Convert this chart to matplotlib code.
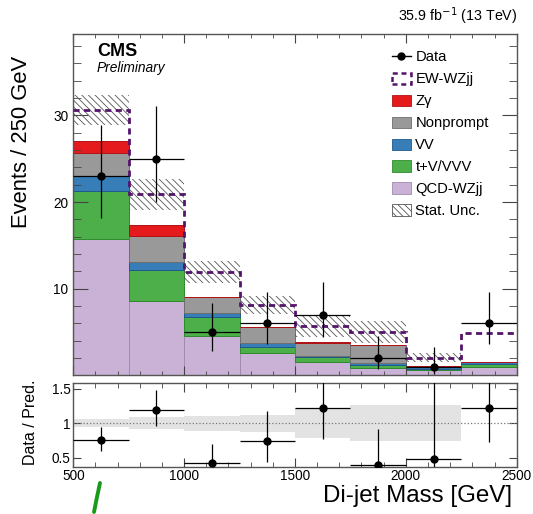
import numpy as np
import matplotlib
matplotlib.use("Agg")
import matplotlib.pyplot as plt
from matplotlib.patches import Patch
from matplotlib.lines import Line2D
from matplotlib.ticker import MultipleLocator

plt.rcParams["font.family"] = ["Liberation Sans", "DejaVu Sans"]
plt.rcParams["hatch.linewidth"] = 0.6

# Binning (di-jet mass, GeV)
edges = [500, 750, 1000, 1250, 1500, 1750, 2000, 2250, 2500]

# Stacked predictions (events per bin), bottom to top
qcd_wzjj = [15.8, 8.65, 4.6, 2.6, 1.6, 0.9, 0.64, 1.0]
tv_vvv = [5.5, 3.55, 2.1, 0.7, 0.5, 0.3, 0.16, 0.3]
vv = [1.7, 0.9, 0.5, 0.4, 0.2, 0.2, 0.15, 0.2]
nonprompt = [2.7, 3.0, 1.8, 1.9, 1.5, 2.1, 0.11, 0.05]
zgamma = [1.3, 1.3, 0.05, 0.05, 0.02, 0.02, 0.01, 0.01]
ew_wzjj = [3.6, 3.5, 2.85, 2.5, 1.9, 1.5, 0.99, 3.34]
stat_unc = [1.75, 1.8, 1.25, 1.0, 1.25, 1.3, 0.54, 0.0]

# Data with asymmetric (Poisson) errors
data = [23, 25, 5, 6, 7, 2, 1, 6]
data_lo = [4.8, 5.0, 2.2, 2.4, 2.6, 1.3, 0.8, 2.4]
data_hi = [5.9, 6.1, 3.4, 3.6, 3.8, 2.6, 2.3, 3.6]

edges = np.array(edges, dtype=float)
centers = 0.5 * (edges[:-1] + edges[1:])
widths = np.diff(edges)

fig = plt.figure(figsize=(5.33, 5.14), dpi=100)
ax = fig.add_axes([0.1375, 0.2695, 0.8319, 0.6644])
rax = fig.add_axes([0.1375, 0.092, 0.8319, 0.1623])

# stack
stack = [
    (qcd_wzjj, "#cab2d6", "#a08cb0", "QCD-WZjj"),
    (tv_vvv, "#4daf4a", "#2f8a2d", "t+V/VVV"),
    (vv, "#377eb8", "#1f5a8a", "VV"),
    (nonprompt, "#999999", "#6e6e6e", "Nonprompt"),
    (zgamma, "#e41a1c", "#b01214", "Z\u03b3"),
]
bottom = np.zeros(len(centers))
for vals, col, ecol, lab in stack:
    vals = np.array(vals)
    ax.bar(edges[:-1], vals, width=widths, bottom=bottom, align="edge",
           color=col, edgecolor=ecol, linewidth=0.7)
    bottom = bottom + vals

total = bottom + np.array(ew_wzjj)
unc = np.array(stat_unc)
ew_col = "#54146b"
ax.stairs(total, edges, baseline=None, color=ew_col, lw=2.0,
          ls=(0, (2.2, 1.6)), zorder=4)
ax.bar(edges[:-1], 2 * unc, width=widths, bottom=total - unc, align="edge",
       facecolor="none", edgecolor="#555555", hatch="\\\\\\\\\\", lw=0, zorder=3)

data = np.array(data, dtype=float)
ax.errorbar(centers, data, xerr=widths / 2, yerr=[data_lo, data_hi], fmt="o",
            color="black", ms=5, elinewidth=0.9, capsize=0, zorder=5)

ax.set_xlim(500, 2500)
ax.set_ylim(0, 39.4)
ax.set_xticklabels([])
ax.xaxis.set_major_locator(MultipleLocator(500))
ax.xaxis.set_minor_locator(MultipleLocator(100))
ax.set_yticks([10, 20, 30])
ax.yaxis.set_minor_locator(MultipleLocator(2))
ax.tick_params(which="both", direction="in", top=True, right=True,
               labelsize=9.8, color="#444444")
ax.tick_params(axis="x", which="major", length=6.5)
ax.tick_params(axis="x", which="minor", length=3)
ax.tick_params(axis="y", which="major", length=10.5)
ax.tick_params(axis="y", which="minor", length=5.5)
ax.set_ylabel("Events / 250 GeV", fontsize=15.8)

ax.text(0.053, 0.950, "CMS", transform=ax.transAxes, fontsize=13,
        fontweight="bold", va="center", ha="left")
ax.text(0.053, 0.900, "Preliminary", transform=ax.transAxes, fontsize=9.9,
        style="italic", va="center", ha="left")
fig.text(0.970, 0.969, "35.9 fb$^{-1}$ (13 TeV)", ha="right", va="center",
         fontsize=10.3)

handles = [
    Line2D([], [], color="black", marker="o", ms=5, lw=1),
    Patch(facecolor="none", edgecolor=ew_col, ls=(0, (2, 1.5)), lw=1.8),
    Patch(facecolor="#e41a1c", edgecolor="#b01214", lw=0.6),
    Patch(facecolor="#999999", edgecolor="#6e6e6e", lw=0.6),
    Patch(facecolor="#377eb8", edgecolor="#1f5a8a", lw=0.6),
    Patch(facecolor="#4daf4a", edgecolor="#2f8a2d", lw=0.6),
    Patch(facecolor="#cab2d6", edgecolor="#a08cb0", lw=0.6),
    Patch(facecolor="white", edgecolor="#555555", hatch="\\\\\\\\\\", lw=0.6),
]
labels = ["Data", "EW-WZjj", "Z\u03b3", "Nonprompt", "VV", "t+V/VVV",
          "QCD-WZjj", "Stat. Unc."]
ax.legend(handles, labels, loc="upper left", bbox_to_anchor=(0.705, 0.969),
          frameon=False, fontsize=10.6, handlelength=1.3, handleheight=0.8,
          handletextpad=0.3, labelspacing=0.54, borderaxespad=0)

# ratio panel
ratio = data / total
r_lo = np.array(data_lo) / total
r_hi = np.array(data_hi) / total
rel = unc / total
rax.bar(edges[:-1], 2 * rel, width=widths, bottom=1 - rel, align="edge",
        color="#e3e3e3", lw=0, zorder=1)
rax.axhline(1, color="#777777", ls=":", lw=0.9, zorder=2)
rax.errorbar(centers, ratio, xerr=widths / 2, yerr=[r_lo, r_hi], fmt="o",
             color="black", ms=5, elinewidth=0.9, capsize=0, zorder=5)
rax.set_xlim(500, 2500)
rax.set_ylim(0.37, 1.58)
rax.set_yticks([0.5, 1, 1.5])
rax.set_yticklabels(["0.5", "1", "1.5"])
rax.xaxis.set_major_locator(MultipleLocator(500))
rax.xaxis.set_minor_locator(MultipleLocator(100))
rax.tick_params(which="both", direction="in", top=True, right=True,
                labelsize=9.8, color="#444444", pad=2)
rax.tick_params(axis="x", which="major", length=6.5)
rax.tick_params(axis="x", which="minor", length=3.5)
rax.tick_params(axis="y", which="major", length=6)
rax.set_ylabel("Data / Pred.", fontsize=11.5)
rax.set_xlabel("Di-jet Mass [GeV]", fontsize=17.4, loc="right")

for a in (ax, rax):
    for s in a.spines.values():
        s.set_color("#555555")
        s.set_linewidth(1.0)

ax.yaxis.set_label_coords(-0.093, 0.684)
rax.yaxis.set_label_coords(-0.080, 0.53)
rax.xaxis.set_label_coords(0.99, -0.22)

# stray green stroke seen below the frame
fig.lines.append(Line2D([100 / 533, 97 / 533, 94 / 533],
                        [1 - 483 / 514, 1 - 497 / 514, 1 - 512 / 514],
                        transform=fig.transFigure, color="#1a9a1a", lw=2.8,
                        solid_capstyle="round"))

fig.savefig("out.png", dpi=100)
